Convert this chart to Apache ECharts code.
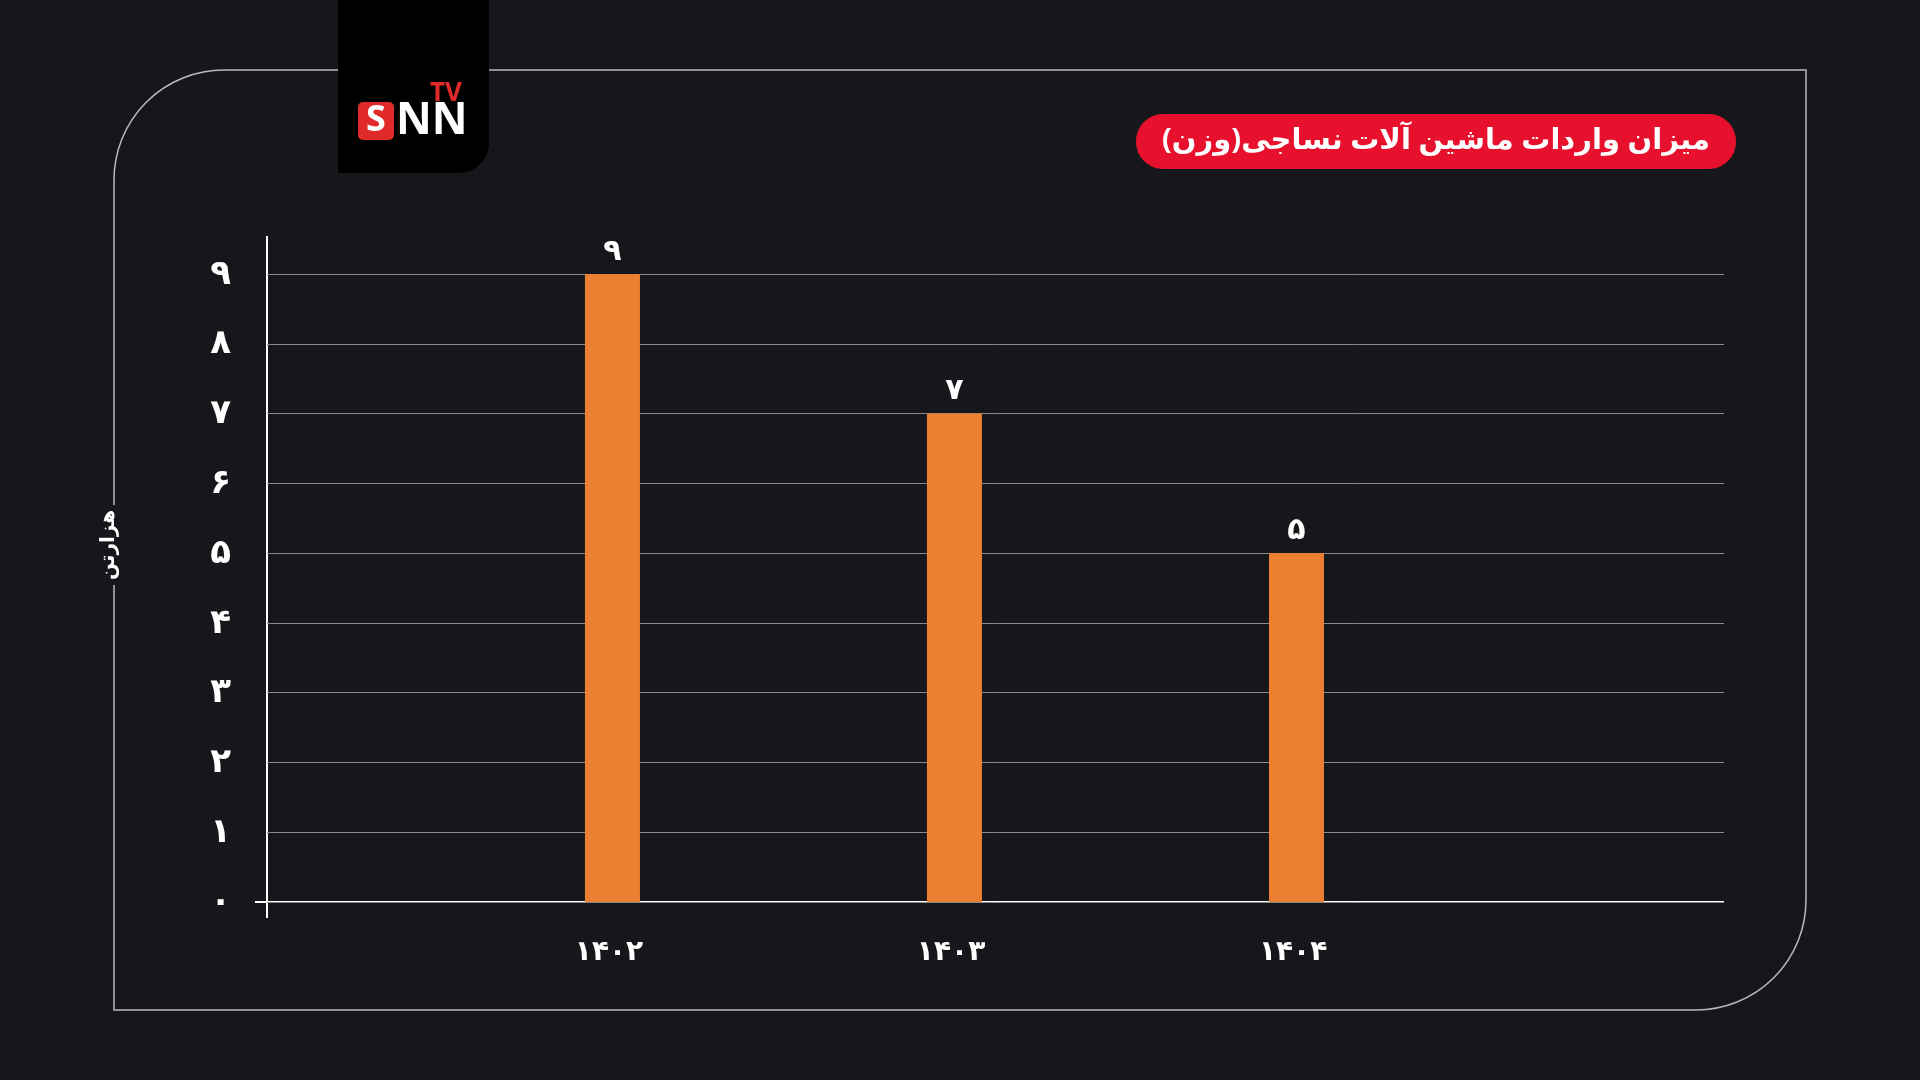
<!DOCTYPE html><html><head><meta charset="utf-8">
<script src="https://cdn.jsdelivr.net/npm/echarts@6/dist/echarts.min.js"></script>
<style>html,body{margin:0;background:#16171b}#c{width:1920px;height:1080px}</style></head><body><div id="c"></div>
<script>
const years=[1402,1403,1404];
const yearLabels={1402:'۱۴۰۲',1403:'۱۴۰۳',1404:'۱۴۰۴'};
const values=[9,7,5];
const valueLabels=['۹','۷','۵'];
const yTicks=['۰','۱','۲','۳','۴','۵','۶','۷','۸','۹'];
const title='میزان واردات ماشین آلات نساجی(وزن)';
const yName='هزارتن';
const F='"Noto Sans", "DejaVu Sans", sans-serif';
const chart=echarts.init(document.getElementById('c'));
chart.setOption({
 backgroundColor:'#16171b',
 grid:{left:267,right:196,top:274,bottom:178},
 xAxis:{type:'value',min:1400.99,max:1405.25,interval:1,
  axisLine:{show:false},axisTick:{show:false},splitLine:{show:false},
  axisLabel:{color:'#fff',fontSize:28,fontWeight:'bold',fontFamily:F,margin:36,showMinLabel:false,showMaxLabel:false,
   formatter:v=>yearLabels[Math.round(v)]||''}},
 yAxis:{type:'value',min:0,max:9,interval:1,
  axisLine:{show:false},axisTick:{show:false},
  splitLine:{lineStyle:{color:'#8a8a8a',width:1}},
  axisLabel:{color:'#fff',fontSize:34,fontWeight:'bold',fontFamily:F,margin:36,formatter:v=>yTicks[v]}},
 series:[{type:'bar',barWidth:55,itemStyle:{color:'#ed7f33'},
  data:years.map((y,i)=>[y,values[i]]),
  label:{show:true,position:'top',color:'#fff',fontSize:30,fontWeight:'bold',fontFamily:F,distance:8,formatter:p=>valueLabels[p.dataIndex]}}],
 graphic:[
  {type:'rect',z:-1,shape:{x:114,y:70,width:1692,height:940,r:[110,0,110,0]},style:{fill:'none',stroke:'#bbb',lineWidth:1.5}},
  {type:'line',shape:{x1:267,y1:236,x2:267,y2:918},style:{stroke:'#fff',lineWidth:2}},
  {type:'line',shape:{x1:255,y1:902,x2:1724,y2:902},style:{stroke:'#fff',lineWidth:2}},
  {type:'rect',shape:{x:338,y:0,width:151,height:173,r:[0,0,30,0]},style:{fill:'#000'}},
  {type:'rect',shape:{x:358,y:102,width:36,height:38,r:5},style:{fill:'#e02a2a'}},
  {type:'text',style:{x:376,y:121,text:'S',fill:'#fff',font:'bold 36px '+F,align:'center',verticalAlign:'middle'}},
  {type:'text',style:{x:396,y:121,text:'NN',fill:'#fff',font:'bold 44px '+F,verticalAlign:'middle'}},
  {type:'text',style:{x:430,y:94,text:'TV',fill:'#e02a2a',font:'bold 26px '+F,verticalAlign:'middle'}},
  {type:'rect',shape:{x:1136,y:114,width:600,height:55,r:27},style:{fill:'#e8112d'}},
  {type:'text',style:{x:1436,y:141,text:title,fill:'#fff',font:'bold 29px '+F,align:'center',verticalAlign:'middle'}},
  {type:'rect',shape:{x:96,y:505,width:24,height:80},style:{fill:'#16171b'}},
  {type:'text',rotation:Math.PI/2,x:108,y:545,style:{text:yName,fill:'#fff',font:'bold 20px '+F,align:'center',verticalAlign:'middle'}}
 ]
});
</script></body></html>
